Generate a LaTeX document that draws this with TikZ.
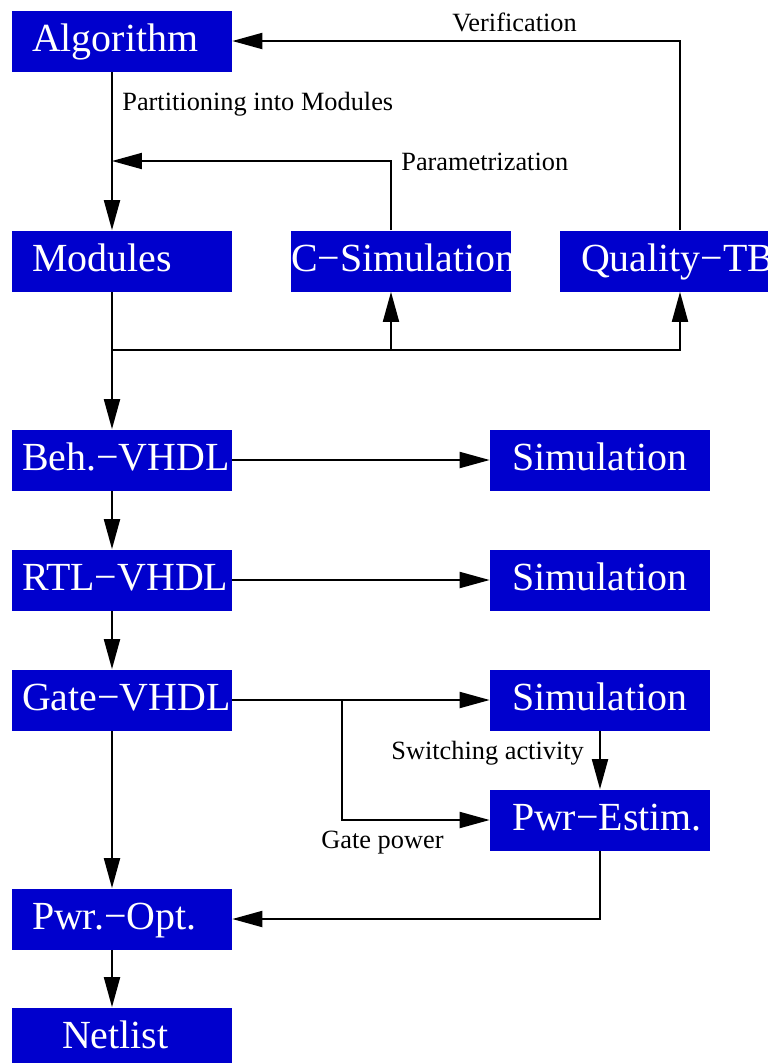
\documentclass[tikz,border=0pt]{standalone}
\usepackage{fontspec}
\setmainfont{Liberation Serif}
\usetikzlibrary{arrows.meta}
\definecolor{BoxBlue}{HTML}{0000CD}
\hyphenpenalty=10000
\tikzset{
  blk/.style={fill=BoxBlue,text=white,font=\fontsize{22.7}{26}\selectfont,
    minimum height=1.22cm,inner ysep=0pt,text height=0.6cm,text depth=0.2cm,
    align=left,inner xsep=#1,text width=4.4cm-2*#1},
  blk/.default=0.4cm,
  lbl/.style={font=\fontsize{15}{18}\selectfont,inner sep=0pt,anchor=base west},
  wire/.style={line width=1.1pt},
  flow/.style={wire,-{Triangle[length=0.6cm,width=0.32cm]}},
}

\begin{document}
\begin{tikzpicture}[x=0.02cm,y=-0.02cm]
  \useasboundingbox (0,0) rectangle (768,1063);
  \coordinate (spine) at (112,0);
  \coordinate (par) at (391,161);
  \coordinate (ver) at (680,41);
  \coordinate (fork) at (112,350);
  \coordinate (tap) at (342,0);
  % blocks
  \node[blk] (alg) at (122,41) {Algorithm};
  \node[blk] (mod) at (122,261) {Modules};
  \node[blk=0pt] (csim) at (401,261) {C−Simulation};
  \node[blk=0.42cm] (qtb) at (670,261) {Quality−TB};
  \node[blk=0.2cm] (beh) at (122,460) {Beh.−VHDL};
  \node[blk=0.44cm] (sim1) at (600,460) {Simulation};
  \node[blk=0.2cm] (rtl) at (122,580) {RTL−VHDL};
  \node[blk=0.44cm] (sim2) at (600,580) {Simulation};
  \node[blk=0.2cm] (gate) at (122,700) {Gate−VHDL};
  \node[blk=0.44cm] (sim3) at (600,700) {Simulation};
  \node[blk=0.44cm] (pest) at (600,820) {Pwr−Estim.};
  \node[blk] (popt) at (122,919) {Pwr.−Opt.};
  \node[blk=1.0cm] (net) at (122,1038) {Netlist};
  % labels
  \node[lbl] (l-part) at (122,110) {Partitioning into Modules};
  \node[lbl] (l-par) at (401,170) {Parametrization};
  \node[lbl] (l-ver) at (452,31) {Verification};
  \node[lbl] (l-sw) at (391,759) {Switching activity};
  \node[lbl] (l-gp) at (321,848) {Gate power};
  % connectors
  \draw[flow] (alg.south -| spine) -- (mod.north -| spine);
  \draw[flow] (csim.north -| par) |- (spine |- par);
  \draw[flow] (qtb.north -| ver) |- (alg.east);
  \draw[flow] (mod.south -| spine) -- (beh.north -| spine);
  \draw[flow] (fork) -| (qtb.south -| ver);
  \draw[flow] (par |- fork) -- (csim.south -| par);
  \draw[flow] (beh.east) -- (sim1.west);
  \draw[flow] (beh.south -| spine) -- (rtl.north -| spine);
  \draw[flow] (rtl.east) -- (sim2.west);
  \draw[flow] (rtl.south -| spine) -- (gate.north -| spine);
  \draw[flow] (gate.east) -- (sim3.west);
  \draw[flow] (gate.east -| tap) |- (pest.west);
  \draw[flow] (sim3.south) -- (pest.north);
  \draw[flow] (pest.south) |- (popt.east);
  \draw[flow] (gate.south -| spine) -- (popt.north -| spine);
  \draw[flow] (popt.south -| spine) -- (net.north -| spine);
\end{tikzpicture}
\end{document}
